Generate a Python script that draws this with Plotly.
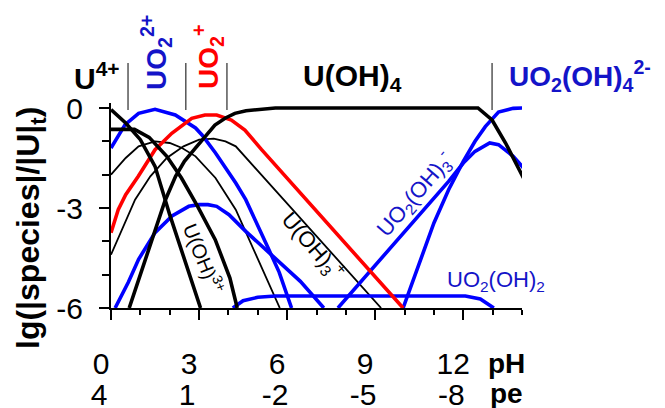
import plotly.graph_objects as go

# ---------------- data ----------------
ph_u4 = [0, 0.5, 1.0, 1.5, 2.0, 2.5, 3.05]
lg_u4 = [-0.05, -0.45, -0.95, -1.75, -3.2, -4.55, -6.0]

ph_uoh = [0, 0.8, 1.3, 1.9, 2.4, 2.95, 3.55, 4.05, 4.3]
lg_uoh = [-0.64, -0.64, -0.88, -1.45, -2.1, -2.95, -3.95, -5.1, -6.0]

ph_uoh2 = [0, 0.5, 0.94, 1.5, 2.0, 2.42, 2.88, 3.56, 4.25, 5.0, 5.75]
lg_uoh2 = [-2.0, -1.5, -1.15, -1.0, -1.05, -1.2, -1.45, -2.1, -3.05, -4.5, -6.0]

ph_uoh3 = [0, 0.45, 0.82, 1.34, 1.9, 2.47, 3.0, 3.5, 3.9, 4.25, 9.2]
lg_uoh3 = [-4.4, -3.5, -2.75, -2.05, -1.5, -1.15, -0.95, -0.92, -1.0, -1.15, -6.0]

ph_uoh4 = [0.62, 1.0, 1.5, 1.84, 2.2, 2.5, 2.86, 3.2, 3.54, 3.9, 4.22, 4.6, 5.13, 5.6, 12.5, 12.98, 13.44, 14.05]
lg_uoh4 = [-6.0, -4.98, -3.62, -2.78, -2.05, -1.6, -1.22, -0.86, -0.51, -0.3, -0.16, -0.08, -0.03, 0, 0, -0.36, -1.05, -2.1]

ph_uo2 = [0, 0.48, 0.94, 1.5, 2.19, 2.88, 3.1, 3.56, 4.25, 4.59, 5.27, 5.73, 6.15]
lg_uo2 = [-1.2, -0.5, -0.16, -0.04, -0.21, -0.6, -0.81, -1.35, -2.25, -2.75, -4.04, -4.93, -6.0]

ph_uo2p = [0, 0.25, 0.5, 0.93, 1.5, 2.07, 2.75, 3.2, 3.6, 4.1, 4.56, 5.13, 9.95]
lg_uo2p = [-3.74, -3.04, -2.6, -2.05, -1.25, -0.76, -0.31, -0.21, -0.21, -0.36, -0.66, -1.25, -6.0]

ph_uo2oh = [0.14, 0.59, 0.94, 1.5, 2.08, 2.65, 3.0, 3.3, 3.6, 4.02, 4.59, 5.27, 5.9, 6.45, 7.25]
lg_uo2oh = [-6.0, -5.23, -4.54, -3.74, -3.24, -2.95, -2.9, -2.9, -2.95, -3.2, -3.7, -4.24, -4.75, -5.2, -6.0]

ph_uo2oh2 = [4.15, 4.5, 5.0, 5.6, 12.07, 12.58, 13.04]
lg_uo2oh2 = [-6.0, -5.78, -5.68, -5.64, -5.64, -5.73, -6.0]

ph_uo2oh3 = [7.73, 11.5, 12.0, 12.4, 12.9, 13.2, 13.7, 14.05]
lg_uo2oh3 = [-6.0, -2.2, -1.65, -1.3, -1.05, -1.1, -1.45, -1.8]

ph_uo2oh4 = [9.95, 10.5, 11.0, 11.5, 12.0, 12.4, 12.75, 13.2, 13.7, 14.05]
lg_uo2oh4 = [-6.0, -4.7, -3.45, -2.45, -1.6, -1.0, -0.56, -0.12, -0.01, 0.0]

ph_ticks = [0, 3, 6, 9, 12]
ph_labels = ["0", "3", "6", "9", "12"]
pe_labels = ["4", "1", "-2", "-5", "-8"]
lg_ticks = [0, -3, -6]
lg_labels = ["0", "-3", "-6"]

# predominance boundaries (pH) drawn as separators above the plot
boundaries = [0.58, 2.55, 3.95, 12.98]

# ---------------- styling ----------------
BLACK = "black"
BLUE = "#0000ff"
RED = "#ff0000"
TBLUE = "#1414c8"
FONT = "Liberation Sans, Arial, sans-serif"

fig = go.Figure()

series = [
    (ph_uoh2, lg_uoh2, BLACK, 1.8),
    (ph_uoh3, lg_uoh3, BLACK, 1.8),
    (ph_uo2oh, lg_uo2oh, BLUE, 3.6),
    (ph_uo2oh2, lg_uo2oh2, BLUE, 3.6),
    (ph_uo2oh3, lg_uo2oh3, BLUE, 3.6),
    (ph_uo2oh4, lg_uo2oh4, BLUE, 3.6),
    (ph_uo2, lg_uo2, BLUE, 3.6),
    (ph_uo2p, lg_uo2p, RED, 3.6),
    (ph_u4, lg_u4, BLACK, 3.6),
    (ph_uoh, lg_uoh, BLACK, 3.6),
    (ph_uoh4, lg_uoh4, BLACK, 3.6),
]
for xs, ys, col, w in series:
    fig.add_trace(go.Scatter(x=xs, y=ys, mode="lines",
                             line=dict(color=col, width=w),
                             hoverinfo="skip", showlegend=False))

# invisible trace for the pe axis
fig.add_trace(go.Scatter(x=[0, 14], y=[-7, -7], xaxis="x2", mode="lines",
                         line=dict(width=0), hoverinfo="skip", showlegend=False))

L, R, T, B = 111, 143, 103, 100
W, H = 665, 408
PW, PH = W - L - R, H - T - B


def P(px, py):
    return (px - L) / PW, (H - B - py) / PH


annots = []


def ann(text, px, py, size, color=BLACK, angle=0):
    x, y = P(px, py)
    annots.append(dict(text=text, x=x, y=y, xref="paper", yref="paper",
                       showarrow=False, xanchor="center", yanchor="middle",
                       textangle=angle, font=dict(family=FONT, size=size, color=color)))


ann("<b>U<sup>4+</sup></b>", 97, 76, 30)
ann("<b>UO<sub>2</sub><sup>2+</sup></b>", 156, 53, 28, TBLUE, -90)
ann("<b>UO<sub>2</sub><sup>+</sup></b>", 208, 57, 28, RED, -90)
ann("<b>U(OH)<sub>4</sub></b>", 352, 77, 30)
ann("<b>UO<sub>2</sub>(OH)<sub>4</sub><sup>2-</sup></b>", 580, 76, 28, TBLUE)
ann("U(OH)<sup>3+</sup>", 205, 258, 20, BLACK, 68)
ann("U(OH)<sub>3</sub><sup>+</sup>", 313, 245, 22, BLACK, 49)
ann("UO<sub>2</sub>(OH)<sub>3</sub><sup>-</sup>", 414, 194, 22, TBLUE, -49)
ann("UO<sub>2</sub>(OH)<sub>2</sub>", 496, 281, 22, TBLUE)
ann("<b>lg(|species|/|U|<sub>t</sub>)</b>", 30, 228, 32, BLACK, -90)
ann("<b>pH</b>", 506, 363, 28)
ann("<b>pe</b>", 506, 393, 28)

shapes = []
y0 = P(0, 110)[1]
y1 = P(0, 63)[1]
for b in boundaries:
    shapes.append(dict(type="line", xref="x", yref="paper", x0=b, x1=b, y0=y0, y1=y1,
                       line=dict(color=BLACK, width=1)))

fig.update_layout(
    width=W, height=H,
    margin=dict(l=L, r=R, t=T, b=B, autoexpand=False),
    paper_bgcolor="white", plot_bgcolor="white",
    showlegend=False,
    font=dict(family=FONT, color=BLACK),
    annotations=annots,
    shapes=shapes,
    xaxis=dict(range=[0, 14], showgrid=False, zeroline=False, automargin=False,
               showline=True, linecolor=BLACK, linewidth=2,
               ticks="outside", ticklen=10, tickwidth=2, tickcolor=BLACK,
               tickvals=ph_ticks, ticktext=ph_labels,
               tickfont=dict(family=FONT, size=30, color=BLACK),
               ticklabelshift=-10, ticklabelstandoff=18,
               minor=dict(ticks="outside", ticklen=5, tickwidth=2, tickcolor=BLACK,
                          tick0=0, dtick=1)),
    xaxis2=dict(range=[0, 14], overlaying="x", anchor="y", side="bottom",
                showgrid=False, zeroline=False, showline=False, ticks="", automargin=False,
                tickvals=ph_ticks, ticktext=pe_labels,
                tickfont=dict(family=FONT, size=30, color=BLACK),
                ticklabelshift=-12, ticklabelstandoff=66),
    yaxis=dict(range=[-6, 0.15], showgrid=False, zeroline=False, automargin=False,
               showline=True, linecolor=BLACK, linewidth=2,
               ticks="outside", ticklen=10, tickwidth=2, tickcolor=BLACK,
               tickvals=lg_ticks, ticktext=lg_labels,
               tickfont=dict(family=FONT, size=30, color=BLACK),
               ticklabelstandoff=10,
               minor=dict(ticks="outside", ticklen=7, tickwidth=2, tickcolor=BLACK,
                          tick0=0, dtick=1)),
)

fig.write_html("out.html")
